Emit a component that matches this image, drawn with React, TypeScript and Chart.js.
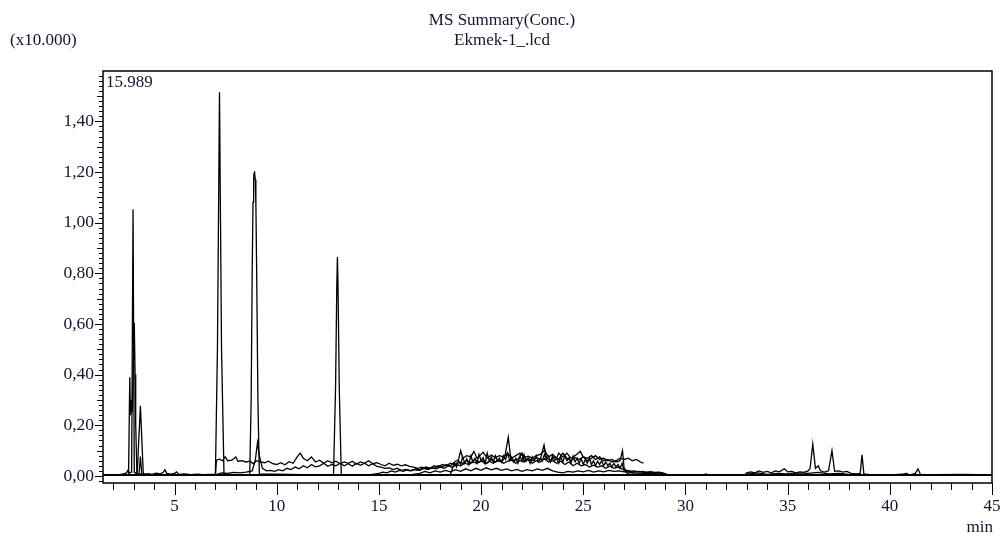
import React, { useEffect, useRef } from "react";
import { Chart, registerables } from "chart.js";

Chart.register(...registerables);

type P = [number, number];

// x-axis tick labels (min) and y-axis tick labels (x10.000)
const xTickValues = [5, 10, 15, 20, 25, 30, 35, 40, 45];
const yTickValues = [0, 0.2, 0.4, 0.6, 0.8, 1.0, 1.2, 1.4];

const titleLine1 = "MS Summary(Conc.)";
const titleLine2 = "Ekmek-1_.lcd";
const yMultiplier = "(x10.000)";
const yMaxLabel = "15.989";
const xUnit = "min";

// traces: [time (min), intensity (x10.000)]
const traceA: P[] = [
  [1.5, 0.003], [1.9, 0.004], [2.3, 0.005], [2.5, 0.008], [2.65, 0.012], [2.72, 0.022], [2.8, 0.012],
  [2.9, 0.015], [2.97, 1.053], [3.03, 0.014], [3.15, 0.01], [3.3, 0.008], [3.5, 0.006], [3.7, 0.009],
  [3.9, 0.006], [4.1, 0.011], [4.3, 0.008], [4.45, 0.014], [4.53, 0.024], [4.62, 0.01], [4.8, 0.007],
  [5.0, 0.01], [5.1, 0.016], [5.2, 0.006], [5.5, 0.008], [5.8, 0.005], [6.1, 0.007], [6.4, 0.005],
  [6.8, 0.006], [7.5, 0.004], [9, 0.004], [11, 0.005], [14, 0.004], [17, 0.005], [20, 0.004],
  [24, 0.005], [28, 0.004], [30.9, 0.004], [31.0, 0.008], [31.1, 0.004], [35, 0.004], [39, 0.004],
  [40.7, 0.004], [40.8, 0.01], [40.9, 0.004], [43.5, 0.006], [45, 0.004],
];

const traceB: P[] = [
  [1.5, 0.002], [2.5, 0.004], [2.75, 0.005], [2.81, 0.39], [2.84, 0.24], [2.88, 0.3], [2.93, 0.25],
  [3.03, 0.605], [3.07, 0.4], [3.1, 0.2], [3.16, 0.01], [3.3, 0.005], [6, 0.004], [15, 0.003],
  [30, 0.003], [45, 0.003],
];

const traceC: P[] = [
  [1.5, 0.003], [3.1, 0.004], [3.18, 0.02], [3.33, 0.277], [3.47, 0.01], [3.6, 0.004], [10, 0.003],
  [25, 0.003], [45, 0.003],
];

const traceD: P[] = [
  [1.5, 0.002], [3.26, 0.004], [3.33, 0.076], [3.4, 0.004], [12, 0.002], [45, 0.002],
];

const peak72: P[] = [
  [1.5, 0.003], [4, 0.003], [6.5, 0.004], [7.0, 0.005], [7.1, 0.5], [7.2, 1.515], [7.3, 0.5],
  [7.42, 0.008], [8, 0.004], [12, 0.004], [20, 0.004], [30, 0.003], [45, 0.003],
];

const peak89: P[] = [
  [1.5, 0.002], [5, 0.003], [8.68, 0.006], [8.75, 0.3], [8.8, 0.8], [8.84, 1.08], [8.87, 1.17],
  [8.89, 1.195], [8.91, 1.203], [8.93, 1.195], [8.95, 1.17], [8.98, 1.08], [9.02, 0.8], [9.08, 0.3],
  [9.15, 0.008], [12, 0.004], [25, 0.003], [45, 0.003],
];

const peak130: P[] = [
  [1.5, 0.002], [8, 0.003], [12.78, 0.006], [12.88, 0.35], [12.94, 0.75], [12.97, 0.864],
  [13.0, 0.75], [13.06, 0.35], [13.16, 0.006], [20, 0.004], [45, 0.003],
];

const noiseUpper: P[] = [
  [1.5, 0.002], [3.5, 0.003], [5.5, 0.003], [7.0, 0.003], [7.05, 0.062], [7.2, 0.066], [7.35, 0.06],
  [7.47, 0.076], [7.6, 0.06], [7.8, 0.062], [8.0, 0.075], [8.1, 0.058], [8.3, 0.06], [8.5, 0.055],
  [8.7, 0.058], [8.85, 0.048], [9.0, 0.06], [9.2, 0.055], [9.4, 0.052], [9.6, 0.058], [9.8, 0.048],
  [10.0, 0.045], [10.2, 0.052], [10.4, 0.044], [10.6, 0.056], [10.8, 0.05], [11.0, 0.075],
  [11.15, 0.09], [11.3, 0.07], [11.5, 0.06], [11.7, 0.075], [11.9, 0.055], [12.1, 0.062],
  [12.3, 0.05], [12.5, 0.06], [12.7, 0.052], [12.9, 0.058], [13.1, 0.048], [13.3, 0.055],
  [13.5, 0.05], [13.7, 0.058], [13.9, 0.046], [14.1, 0.055], [14.3, 0.05], [14.5, 0.06],
  [14.7, 0.048], [14.9, 0.052], [15.1, 0.045], [15.3, 0.04], [15.5, 0.05], [15.7, 0.042],
  [15.9, 0.046], [16.1, 0.04], [16.3, 0.044], [16.5, 0.038], [16.7, 0.035], [16.9, 0.03],
  [17.1, 0.034], [17.3, 0.028], [17.5, 0.032], [17.7, 0.03], [17.9, 0.04], [18.1, 0.035],
  [18.3, 0.045], [18.5, 0.04], [18.7, 0.055], [18.9, 0.065], [19.0, 0.1], [19.1, 0.07],
  [19.3, 0.08], [19.5, 0.075], [19.65, 0.097], [19.8, 0.07], [20.0, 0.085], [20.1, 0.093],
  [20.3, 0.07], [20.5, 0.082], [20.7, 0.072], [20.9, 0.08], [21.1, 0.075], [21.3, 0.09],
  [21.5, 0.07], [21.7, 0.08], [21.9, 0.09], [22.1, 0.072], [22.3, 0.078], [22.5, 0.07],
  [22.7, 0.08], [22.9, 0.085], [23.1, 0.1], [23.3, 0.075], [23.5, 0.085], [23.7, 0.07],
  [23.8, 0.09], [24.0, 0.075], [24.2, 0.09], [24.4, 0.07], [24.6, 0.08], [24.85, 0.097],
  [25.0, 0.075], [25.2, 0.07], [25.4, 0.08], [25.6, 0.065], [25.8, 0.075], [26.0, 0.06],
  [26.2, 0.065], [26.4, 0.055], [26.6, 0.06], [26.8, 0.07], [27.0, 0.065], [27.2, 0.07],
  [27.4, 0.06], [27.6, 0.065], [27.8, 0.055], [27.95, 0.05],
];

const noiseLower: P[] = [
  [1.5, 0.003], [4.0, 0.004], [7.0, 0.004], [7.3, 0.012], [7.6, 0.01], [7.9, 0.014], [8.2, 0.012],
  [8.5, 0.015], [8.8, 0.02], [8.95, 0.06], [9.06, 0.131], [9.15, 0.08], [9.3, 0.03], [9.5, 0.02],
  [9.7, 0.022], [9.9, 0.018], [10.1, 0.025], [10.3, 0.02], [10.5, 0.03], [10.7, 0.025],
  [10.9, 0.035], [11.1, 0.028], [11.3, 0.04], [11.5, 0.032], [11.7, 0.045], [11.9, 0.036],
  [12.1, 0.04], [12.3, 0.05], [12.5, 0.038], [12.7, 0.045], [12.9, 0.04], [13.1, 0.05],
  [13.3, 0.04], [13.5, 0.048], [13.7, 0.038], [13.9, 0.05], [14.1, 0.042], [14.3, 0.05],
  [14.5, 0.04], [14.7, 0.048], [14.9, 0.038], [15.1, 0.035], [15.3, 0.03], [15.5, 0.032],
  [15.7, 0.025], [15.9, 0.03], [16.1, 0.022], [16.3, 0.026], [16.5, 0.02], [16.7, 0.025],
  [16.9, 0.022], [17.1, 0.028], [17.3, 0.035], [17.5, 0.03], [17.7, 0.04], [17.9, 0.035],
  [18.1, 0.045], [18.3, 0.04], [18.5, 0.05], [18.7, 0.045], [18.9, 0.055], [19.1, 0.05],
  [19.3, 0.06], [19.5, 0.052], [19.7, 0.065], [19.9, 0.055], [20.1, 0.06], [20.3, 0.05],
  [20.5, 0.065], [20.7, 0.055], [20.9, 0.06], [21.1, 0.05], [21.3, 0.058], [21.5, 0.062],
  [21.7, 0.05], [21.9, 0.06], [22.1, 0.055], [22.3, 0.065], [22.5, 0.05], [22.7, 0.06],
  [22.9, 0.055], [23.1, 0.068], [23.3, 0.055], [23.5, 0.06], [23.7, 0.05], [23.9, 0.058],
  [24.1, 0.045], [24.3, 0.055], [24.5, 0.04], [24.7, 0.05], [24.9, 0.04], [25.1, 0.045],
  [25.3, 0.035], [25.5, 0.042], [25.7, 0.035], [25.9, 0.04], [26.1, 0.03], [26.3, 0.038],
  [26.5, 0.03], [26.7, 0.035], [26.9, 0.028], [27.1, 0.022], [27.3, 0.018], [27.5, 0.02],
  [27.7, 0.016], [27.9, 0.018], [28.1, 0.015], [28.3, 0.017], [28.5, 0.014], [28.7, 0.015],
  [28.9, 0.012], [29.1, 0.006], [30, 0.004], [33, 0.004], [36, 0.004], [40, 0.004], [45, 0.004],
];

const noiseMid: P[] = [
  [1.5, 0.002], [10, 0.003], [14.5, 0.004], [15.0, 0.01], [15.2, 0.015], [15.4, 0.012], [15.6, 0.02],
  [15.8, 0.015], [16.0, 0.022], [16.2, 0.018], [16.4, 0.025], [16.6, 0.02], [16.8, 0.028],
  [17.0, 0.022], [17.2, 0.03], [17.4, 0.025], [17.6, 0.032], [17.8, 0.028], [18.0, 0.035],
  [18.2, 0.03], [18.4, 0.04], [18.6, 0.034], [18.8, 0.045], [19.0, 0.04], [19.2, 0.05],
  [19.4, 0.045], [19.6, 0.055], [19.8, 0.05], [20.0, 0.06], [20.2, 0.048], [20.4, 0.058],
  [20.6, 0.05], [20.8, 0.062], [21.0, 0.055], [21.15, 0.07], [21.33, 0.153], [21.45, 0.07],
  [21.6, 0.06], [21.8, 0.065], [22.0, 0.09], [22.1, 0.06], [22.3, 0.07], [22.5, 0.06],
  [22.7, 0.072], [22.9, 0.065], [23.08, 0.122], [23.2, 0.07], [23.4, 0.06], [23.6, 0.075],
  [23.8, 0.065], [24.0, 0.09], [24.2, 0.07], [24.4, 0.06], [24.6, 0.072], [24.8, 0.065],
  [25.0, 0.075], [25.2, 0.06], [25.4, 0.07], [25.6, 0.08], [25.8, 0.065], [26.0, 0.07],
  [26.2, 0.06], [26.4, 0.065], [26.6, 0.055], [26.8, 0.06], [26.92, 0.1], [27.0, 0.03],
  [27.2, 0.015], [27.5, 0.012], [28.0, 0.01], [28.5, 0.008], [29, 0.005], [35, 0.004], [45, 0.004],
];

const noiseDense: P[] = [
  [1.5, 0.003], [15, 0.004], [18.5, 0.006], [18.6, 0.03], [18.7, 0.05], [18.8, 0.035], [18.9, 0.06],
  [19.0, 0.045], [19.1, 0.075], [19.2, 0.05], [19.3, 0.068], [19.4, 0.045], [19.5, 0.08],
  [19.6, 0.055], [19.7, 0.07], [19.8, 0.05], [19.9, 0.085], [20.0, 0.06], [20.1, 0.072],
  [20.2, 0.05], [20.3, 0.09], [20.4, 0.06], [20.5, 0.075], [20.6, 0.055], [20.7, 0.08],
  [20.8, 0.06], [20.9, 0.07], [21.0, 0.055], [21.1, 0.08], [21.2, 0.065], [21.3, 0.09],
  [21.4, 0.06], [21.5, 0.075], [21.6, 0.055], [21.7, 0.07], [21.8, 0.05], [21.9, 0.078],
  [22.0, 0.06], [22.1, 0.085], [22.2, 0.058], [22.3, 0.07], [22.4, 0.05], [22.5, 0.075],
  [22.6, 0.06], [22.7, 0.08], [22.8, 0.055], [22.9, 0.07], [23.0, 0.06], [23.1, 0.085],
  [23.2, 0.065], [23.3, 0.078], [23.4, 0.055], [23.5, 0.08], [23.6, 0.06], [23.7, 0.07],
  [23.8, 0.05], [23.9, 0.075], [24.0, 0.055], [24.1, 0.08], [24.2, 0.06], [24.3, 0.072],
  [24.4, 0.05], [24.5, 0.078], [24.6, 0.055], [24.7, 0.07], [24.8, 0.05], [24.9, 0.068],
  [25.0, 0.045], [25.1, 0.065], [25.2, 0.05], [25.3, 0.07], [25.4, 0.045], [25.5, 0.06],
  [25.6, 0.04], [25.7, 0.058], [25.8, 0.045], [25.9, 0.06], [26.0, 0.04], [26.1, 0.055],
  [26.2, 0.04], [26.3, 0.05], [26.4, 0.035], [26.5, 0.05], [26.6, 0.035], [26.7, 0.045],
  [26.8, 0.03], [26.9, 0.05], [27.0, 0.02], [27.2, 0.008], [30, 0.004], [45, 0.004],
];

const noiseLow: P[] = [
  [1.5, 0.003], [16.5, 0.004], [17.0, 0.01], [17.25, 0.018], [17.5, 0.012], [17.75, 0.02],
  [18.0, 0.015], [18.25, 0.022], [18.5, 0.016], [18.75, 0.025], [19.0, 0.018], [19.25, 0.028],
  [19.5, 0.02], [19.75, 0.03], [20.0, 0.022], [20.25, 0.032], [20.5, 0.024], [20.75, 0.03],
  [21.0, 0.022], [21.25, 0.028], [21.5, 0.02], [21.75, 0.026], [22.0, 0.018], [22.25, 0.025],
  [22.5, 0.02], [22.75, 0.028], [23.0, 0.022], [23.25, 0.03], [23.5, 0.02], [23.75, 0.015],
  [24.0, 0.012], [24.25, 0.018], [24.5, 0.015], [24.75, 0.02], [25.0, 0.016], [25.25, 0.022],
  [25.5, 0.015], [25.75, 0.02], [26.0, 0.016], [26.25, 0.022], [26.5, 0.018], [26.75, 0.02],
  [27.0, 0.016], [27.25, 0.02], [27.5, 0.015], [27.75, 0.018], [28.0, 0.012], [28.25, 0.015],
  [28.5, 0.01], [28.75, 0.012], [29.0, 0.006], [29.5, 0.004], [45, 0.004],
];

const lateTrace: P[] = [
  [1.5, 0.002], [30, 0.003], [32.9, 0.004], [33.0, 0.012], [33.2, 0.016], [33.4, 0.012],
  [33.6, 0.02], [33.8, 0.014], [34.0, 0.018], [34.2, 0.012], [34.4, 0.02], [34.6, 0.016],
  [34.84, 0.028], [35.0, 0.016], [35.2, 0.018], [35.4, 0.012], [35.6, 0.016], [35.8, 0.014],
  [36.0, 0.02], [36.1, 0.03], [36.23, 0.126], [36.36, 0.03], [36.5, 0.04], [36.6, 0.02],
  [36.8, 0.015], [37.0, 0.02], [37.17, 0.1], [37.3, 0.018], [37.5, 0.02], [37.7, 0.015],
  [37.9, 0.018], [38.1, 0.01], [38.4, 0.008], [38.55, 0.01], [38.64, 0.083], [38.73, 0.008],
  [39.0, 0.005], [40, 0.004], [40.8, 0.008], [41.0, 0.004], [41.25, 0.01], [41.38, 0.028],
  [41.5, 0.006], [42, 0.004], [43, 0.005], [44, 0.004], [45, 0.004],
];

const lateLow: P[] = [
  [1.5, 0.003], [32.8, 0.003], [33.1, 0.008], [33.5, 0.012], [34.0, 0.006], [34.5, 0.01],
  [35.0, 0.008], [35.5, 0.012], [36.0, 0.01], [36.5, 0.014], [37.0, 0.008], [37.5, 0.01],
  [38.0, 0.006], [38.5, 0.004], [45, 0.004],
];

const traces: P[][] = [
  traceA, traceB, traceC, traceD, peak72, peak89, peak130,
  noiseUpper, noiseLower, noiseMid, noiseDense, noiseLow, lateTrace, lateLow,
];

const FONT = "'Liberation Serif', 'Times New Roman', serif";
const TEXT = "#141430";

const decorPlugin = {
  id: "decor",
  beforeDraw(chart: any) {
    const { ctx, width, height } = chart;
    ctx.save();
    ctx.fillStyle = "#fff";
    ctx.fillRect(0, 0, width, height);
    ctx.restore();
  },
  afterDraw(chart: any) {
    const { ctx, chartArea: a, scales } = chart;
    const xs = scales.x;
    const ys = scales.y;
    ctx.save();
    ctx.strokeStyle = "#000";
    ctx.lineWidth = 1.5;
    ctx.strokeRect(a.left, a.top, a.right - a.left, a.bottom - a.top);
    ctx.lineWidth = 1;
    ctx.beginPath();
    for (let t = 2; t <= 45; t++) {
      const px = Math.round(xs.getPixelForValue(t)) + 0.5;
      const len = t % 5 === 0 ? 12 : 7;
      ctx.moveTo(px, a.bottom);
      ctx.lineTo(px, a.bottom + len);
    }
    for (let i = -1; i <= 79; i++) {
      const py = Math.round(ys.getPixelForValue(i * 0.02)) + 0.5;
      const len = i % 10 === 0 ? 8 : i % 5 === 0 ? 6 : 4;
      ctx.moveTo(a.left, py);
      ctx.lineTo(a.left - len, py);
    }
    ctx.stroke();

    ctx.fillStyle = TEXT;
    ctx.font = `17px ${FONT}`;
    ctx.textBaseline = "middle";
    ctx.textAlign = "center";
    ctx.fillText(titleLine1, 502, 21);
    ctx.fillText(titleLine2, 502, 41);
    ctx.textAlign = "left";
    ctx.fillText(yMultiplier, 10, 41);
    ctx.fillText(yMaxLabel, a.left + 3, a.top + 12);
    ctx.textAlign = "right";
    ctx.fillText(xUnit, 993, 528);
    ctx.restore();
  },
};

export default function App() {
  const ref = useRef<HTMLCanvasElement | null>(null);
  useEffect(() => {
    if (!ref.current) return;
    const chart = new Chart(ref.current, {
      type: "line",
      data: {
        datasets: traces.map((tr) => ({
          data: tr.map(([x, y]) => ({ x, y })),
          borderColor: "#000",
          borderWidth: 1.3,
          pointRadius: 0,
          fill: false,
          tension: 0,
        })),
      },
      options: {
        responsive: false,
        animation: false,
        layout: { padding: { top: 71, right: 13, left: 0, bottom: 0 } },
        plugins: { legend: { display: false }, tooltip: { enabled: false }, title: { display: false } },
        scales: {
          x: {
            type: "linear",
            min: 1.5,
            max: 45,
            afterBuildTicks: (s: any) => {
              s.ticks = xTickValues.map((v) => ({ value: v }));
            },
            afterFit: (s: any) => {
              s.height = 55;
              s.paddingLeft = 0;
              s.paddingRight = 0;
            },
            grid: { display: false, drawTicks: false },
            border: { display: false },
            ticks: {
              autoSkip: false,
              maxRotation: 0,
              padding: 13,
              color: TEXT,
              font: { family: FONT, size: 17 },
              callback: (v: any) => String(v),
            },
          },
          y: {
            type: "linear",
            min: -0.028,
            max: 1.5989,
            afterBuildTicks: (s: any) => {
              s.ticks = yTickValues.map((v) => ({ value: v }));
            },
            afterFit: (s: any) => {
              s.width = 103;
              s.paddingTop = 0;
              s.paddingBottom = 0;
            },
            grid: { display: false, drawTicks: false },
            border: { display: false },
            ticks: {
              autoSkip: false,
              padding: 9,
              color: TEXT,
              font: { family: FONT, size: 17.5 },
              callback: (v: any) => Number(v).toFixed(2).replace(".", ","),
            },
          },
        },
      },
      plugins: [decorPlugin],
    });
    return () => chart.destroy();
  }, []);
  return (
    <div style={{ position: "fixed", left: 0, top: 0, width: 1005, height: 538, background: "#fff" }}>
      <canvas ref={ref} width={1005} height={538} style={{ display: "block" }} />
    </div>
  );
}
